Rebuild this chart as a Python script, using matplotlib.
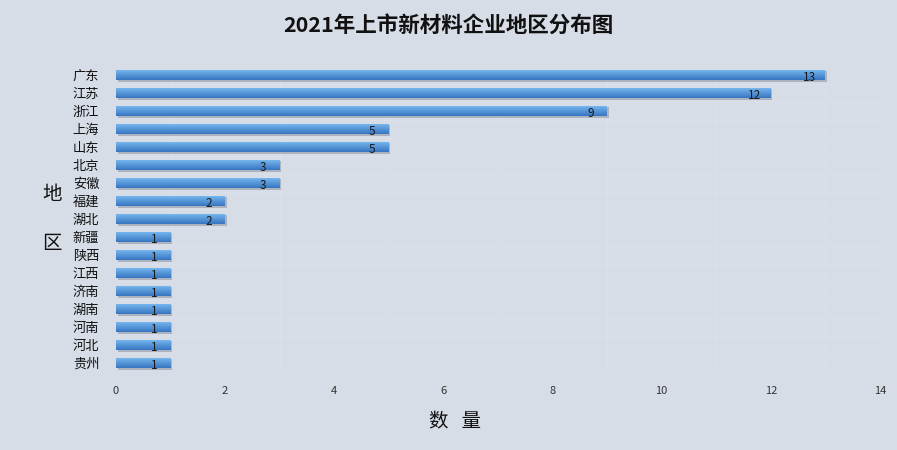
import numpy as np
import matplotlib.pyplot as plt

plt.rcParams['font.family'] = ['Noto Sans CJK SC', 'DejaVu Sans']

regions = ['广东', '江苏', '浙江', '上海', '山东', '北京', '安徽', '福建', '湖北',
           '新疆', '陕西', '江西', '济南', '湖南', '河南', '河北', '贵州']
counts = [13, 12, 9, 5, 5, 3, 3, 2, 2, 1, 1, 1, 1, 1, 1, 1, 1]

bg = '#d7dde7'
fig = plt.figure(figsize=(8.97, 4.5), dpi=100, facecolor=bg)
ax = fig.add_axes([0.1293, 0.1733, 0.8517, 0.68])
ax.set_facecolor(bg)

y = np.arange(len(regions))
h = 0.6
# soft shadow
ax.barh(y + 0.1, counts, height=h, left=0.03, color='#5f6672', alpha=0.35, zorder=2)
# vertical gradient, light on top, darker at bottom
n = 10
top = np.array([0.45, 0.70, 0.92])
bot = np.array([0.22, 0.47, 0.76])
for i in range(n):
    t = i / (n - 1)
    col = top * (1 - t) + bot * t
    yc = y - h / 2 + (i + 0.5) * h / n
    ax.barh(yc, counts, height=h / n * 1.05, color=col, zorder=3)

for yi, c in zip(y, counts):
    ax.text(c - 0.3, yi + 0.12, str(c), ha='center', va='center',
            fontsize=8.5, color='#1a1a1a', zorder=5)

ax.set_xlim(0, 14)
ax.set_ylim(len(regions) - 0.5, -0.5)
ax.set_xticks(range(0, 15, 2))
ax.set_yticks(y)
ax.set_yticklabels(regions, fontsize=9.5, color='#111111')
ax.tick_params(axis='both', length=0)
ax.tick_params(axis='y', pad=12)
ax.tick_params(axis='x', pad=10, labelsize=8, labelcolor='#333333')

ax.set_xticks(np.arange(0, 14.5, 1), minor=True)
ax.set_yticks(y + 0.5, minor=True)
ax.grid(True, which='minor', color='#dce1ea', linewidth=0.5, zorder=0)
ax.tick_params(which='minor', length=0)
for s in ax.spines.values():
    s.set_visible(False)

fig.text(0.5, 0.945, '2021年上市新材料企业地区分布图', ha='center', va='center',
         fontsize=15.5, fontweight='bold', color='#111111')
fig.text(0.058, 0.513, '地\n\n区', ha='center', va='center', fontsize=14,
         color='#111111', linespacing=1.2)
fig.text(0.507, 0.062, '数   量', ha='center', va='center', fontsize=14,
         color='#111111')

fig.savefig('out.png', dpi=100, facecolor=bg)
